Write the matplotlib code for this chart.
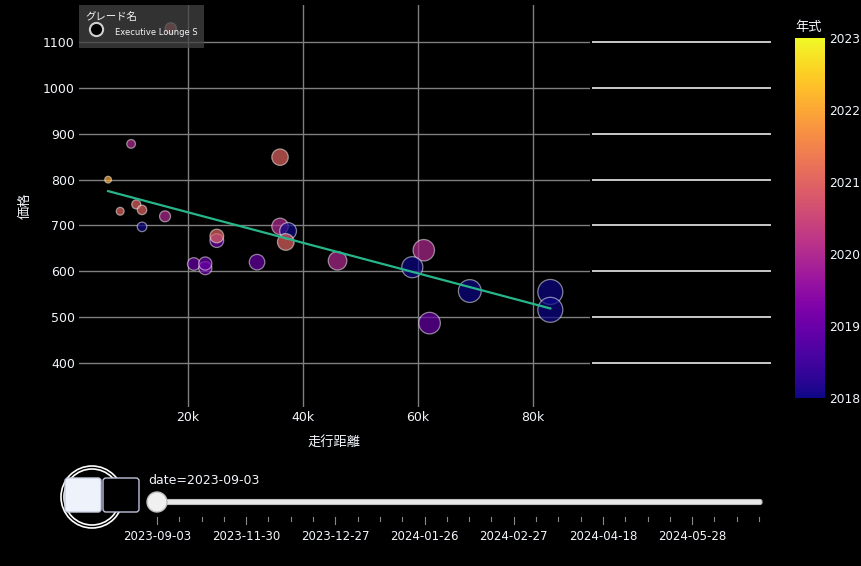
import numpy as np
import matplotlib.pyplot as plt
from matplotlib.lines import Line2D
from matplotlib.patches import Circle, FancyBboxPatch
from matplotlib import cm, colors

plt.rcParams['font.family'] = ['DejaVu Sans', 'Noto Sans CJK JP']

# data read from the frame (date=2023-09-03)
km = [6100, 10100, 8200, 11000, 12000, 12000, 16000, 17000, 21000, 23000, 23000,
      25000, 25000, 32000, 36000, 36000, 37400, 37000, 46000, 61000, 59000,
      69000, 62000, 83000, 83000]
price = [800, 878, 731, 746, 734, 697, 720, 1130, 616, 607, 617,
         667, 677, 620, 849, 698, 688, 664, 623, 646, 609,
         557, 487, 555, 516]
year = [2022, 2020, 2021, 2021, 2021, 2018, 2020, 2021, 2019, 2019, 2019,
        2019, 2021, 2019, 2021, 2020, 2018, 2021, 2020, 2020, 2018,
        2018, 2019, 2018, 2018]
trend_km = [6100, 83000]
trend_price = [775, 519]

y_ticks = [400, 500, 600, 700, 800, 900, 1000, 1100]
x_ticks = [20000, 40000, 60000, 80000]
x_tick_labels = ['20k', '40k', '60k', '80k']
cbar_ticks = [2018, 2019, 2020, 2021, 2022, 2023]

n_steps = 28
step_labels = ['2023-09-03', '2023-11-30', '2023-12-27', '2024-01-26',
               '2024-02-27', '2024-04-18', '2024-05-28']

W, H = 862, 566
fig = plt.figure(figsize=(W / 100, H / 100), dpi=100, facecolor='black')
txt = '#f2f5fa'
grid = '#7f7f7f'


def box(x0, y0, x1, y1):
    return [x0 / W, 1 - y1 / H, (x1 - x0) / W, (y1 - y0) / H]


# main scatter
ax = fig.add_axes(box(79, 5, 590, 407))
ax.set_facecolor('black')
ax.set_xlim(1040, 89900)
ax.set_ylim(304, 1181)
ax.set_xticks(x_ticks)
ax.set_xticklabels(x_tick_labels)
ax.set_yticks(y_ticks)
ax.grid(True, color=grid, lw=1)
ax.set_axisbelow(True)
for s in ax.spines.values():
    s.set_visible(False)
ax.tick_params(colors=txt, labelsize=9, length=0)
ax.tick_params(axis='y', pad=3)
ax.tick_params(axis='x', pad=3)

cmap = plt.get_cmap('plasma')
norm = colors.Normalize(2018, 2023)
face = cmap(norm(np.array(year)))
face[:, 3] = 0.7
diam_px = 25 * np.sqrt(np.array(km) / 83000)
sizes = (diam_px * 0.72) ** 2
ax.scatter(km, price, s=sizes, c=face, edgecolors=(1, 1, 1, 0.5),
           linewidths=0.9, zorder=3)
ax.plot(trend_km, trend_price, color='#27b68a', lw=1.6, zorder=4)

ax.set_xlabel('走行距離', color=txt, fontsize=9.5, labelpad=9)
ax.set_ylabel('価格', color=txt, fontsize=9.5, labelpad=8)

handle = Line2D([], [], marker='o', ls='', markersize=9.5, markerfacecolor='black',
                markeredgecolor='#cfcfcf', markeredgewidth=1.5)
leg = ax.legend([handle], ['Executive Lounge S'], title='グレード名',
                loc='upper left', bbox_to_anchor=(0, 1), borderaxespad=0,
                fontsize=6, title_fontsize=7.5, facecolor='#444444',
                framealpha=0.75, edgecolor='none', fancybox=False,
                alignment='left', handletextpad=0.9, handlelength=2.6,
                handleheight=3.0, borderpad=0.8, labelspacing=0.2)
for t in leg.get_texts():
    t.set_color(txt)
leg.get_title().set_color(txt)
leg.set_zorder(5)

# right-hand white lines
axr = fig.add_axes(box(592, 5, 771, 407))
axr.set_ylim(304, 1181)
axr.axis('off')
for v in y_ticks:
    axr.axhline(v, color='white', lw=1.1)

# colorbar
cax = fig.add_axes(box(795, 38, 825, 398))
cb = fig.colorbar(cm.ScalarMappable(norm=norm, cmap=cmap), cax=cax, ticks=cbar_ticks)
cb.outline.set_visible(False)
cax.tick_params(colors=txt, labelsize=8.8, length=0, pad=3)
cax.set_title('年式', color=txt, fontsize=9.5, loc='left', pad=5)

# slider / play buttons overlay
ui = fig.add_axes([0, 0, 1, 1])
ui.set_xlim(0, W)
ui.set_ylim(H, 0)
ui.axis('off')
ui.add_patch(Circle((92, 497), 31, fill=False, ec='white', lw=1.2))
ui.add_patch(Circle((92, 497), 28, fill=False, ec='white', lw=1.2))
ui.add_patch(FancyBboxPatch((65, 478), 36, 34, boxstyle='round,pad=0,rounding_size=3',
                            fc='#eef2fb', ec='#c8cce0', lw=1))
ui.add_patch(FancyBboxPatch((103, 478), 36, 34, boxstyle='round,pad=0,rounding_size=3',
                            fc='black', ec='#bec2da', lw=1))

x0, x1 = 157, 759
step_x = np.linspace(x0, x1, n_steps)
ui.add_patch(FancyBboxPatch((x0, 499.5), x1 + 3 - x0, 5, boxstyle='round,pad=0,rounding_size=2',
                            fc='#e8e8e8', ec='#bdbdbd', lw=0.8))
for i, sx in enumerate(step_x):
    major = i % 4 == 0
    ui.plot([sx, sx], [517, 524 if major else 521], color='#888888', lw=0.8)
for lab, sx in zip(step_labels, step_x[::4]):
    ui.text(sx, 537, lab, color=txt, fontsize=8.5, ha='center', va='center')
ui.add_patch(Circle((x0, 502), 10, fc='#f0f0f0', ec='#bdbdbd', lw=1, zorder=5))
ui.text(148, 480, 'date=2023-09-03', color=txt, fontsize=9, ha='left', va='center')

fig.savefig('out.png', dpi=100, facecolor='black')
